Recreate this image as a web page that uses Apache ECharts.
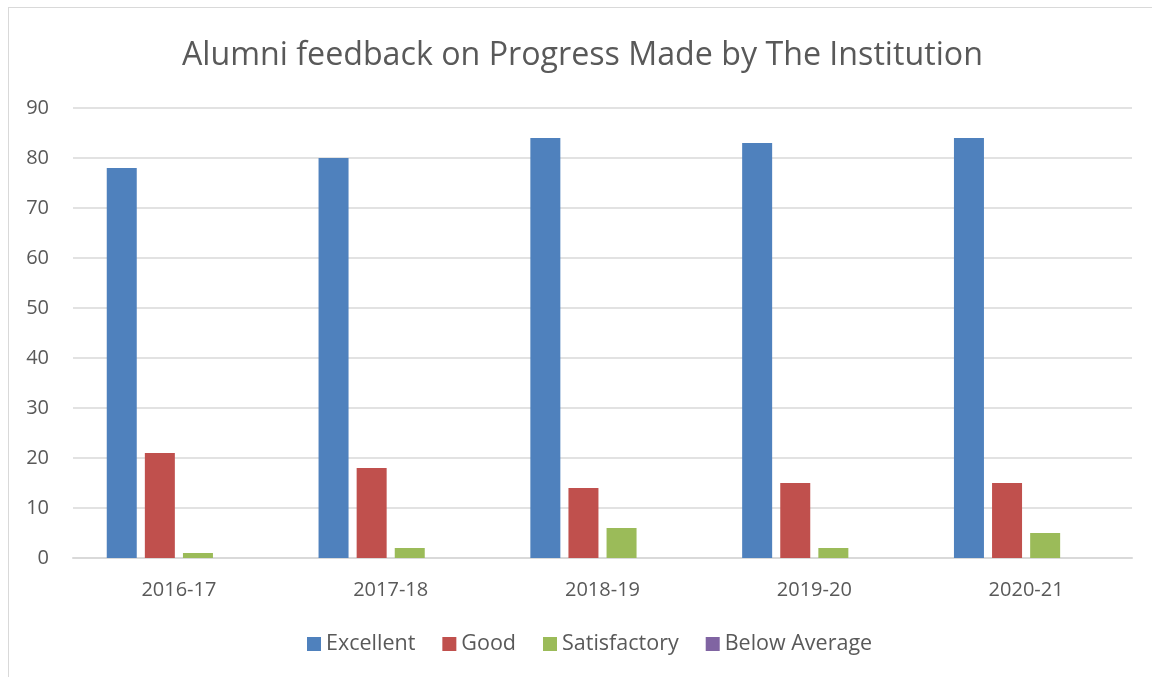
<!DOCTYPE html>
<html>
<head>
<meta charset="utf-8">
<script src="https://cdn.jsdelivr.net/npm/echarts@6/dist/echarts.min.js"></script>
<style>
  html, body { margin: 0; padding: 0; background: #fff; }
  #chart { width: 1152px; height: 677px; }
  .frame { position: absolute; left: 8px; top: 7px; width: 1160px; height: 700px; border: 1px solid #d9d9d9; box-sizing: border-box; pointer-events: none; }
</style>
</head>
<body>
<div id="chart"></div>
<div class="frame"></div>
<script>
const years = ['2016-17', '2017-18', '2018-19', '2019-20', '2020-21']
const excellent = [78, 80, 84, 83, 84]
const good = [21, 18, 14, 15, 15]
const satisfactory = [1, 2, 6, 2, 5]
const belowAverage = [0, 0, 0, 0, 0]

const textColor = '#595959'
const chart = echarts.init(document.getElementById('chart'))

const bar = (name, data, color) => ({
  name: name,
  type: 'bar',
  barWidth: 30,
  barGap: '27%',
  data: data,
  itemStyle: { color: color }
})

chart.setOption({
  animation: false,
  title: {
    text: 'Alumni feedback on Progress Made by The Institution',
    left: 177,
    top: 35,
    textStyle: { color: textColor, fontSize: 32.2, fontWeight: 'normal', fontFamily: 'Open Sans' }
  },
  legend: {
    bottom: 17,
    left: 302,
    icon: 'rect',
    itemWidth: 14,
    itemHeight: 14,
    itemGap: 27,
    textStyle: { color: textColor, fontSize: 21.5, fontFamily: 'Open Sans' },
    data: ['Excellent', 'Good', 'Satisfactory', 'Below Average']
  },
  grid: { left: 73, right: 20, top: 108, bottom: 119 },
  xAxis: {
    type: 'category',
    data: years,
    axisLine: { lineStyle: { color: '#d9d9d9', width: 2 } },
    axisTick: { show: false },
    axisLabel: { color: textColor, fontSize: 20, margin: 22, fontFamily: 'Open Sans' }
  },
  yAxis: {
    type: 'value',
    min: 0,
    max: 90,
    interval: 10,
    axisLine: { show: false },
    axisTick: { show: false },
    axisLabel: { color: textColor, fontSize: 20, margin: 24, fontFamily: 'Open Sans' },
    splitLine: { lineStyle: { color: '#d9d9d9', width: 1.5 } }
  },
  series: [
    bar('Excellent', excellent, '#4f81bd'),
    bar('Good', good, '#c0504d'),
    bar('Satisfactory', satisfactory, '#9bbb59'),
    bar('Below Average', belowAverage, '#8064a2')
  ]
})
</script>
</body>
</html>
